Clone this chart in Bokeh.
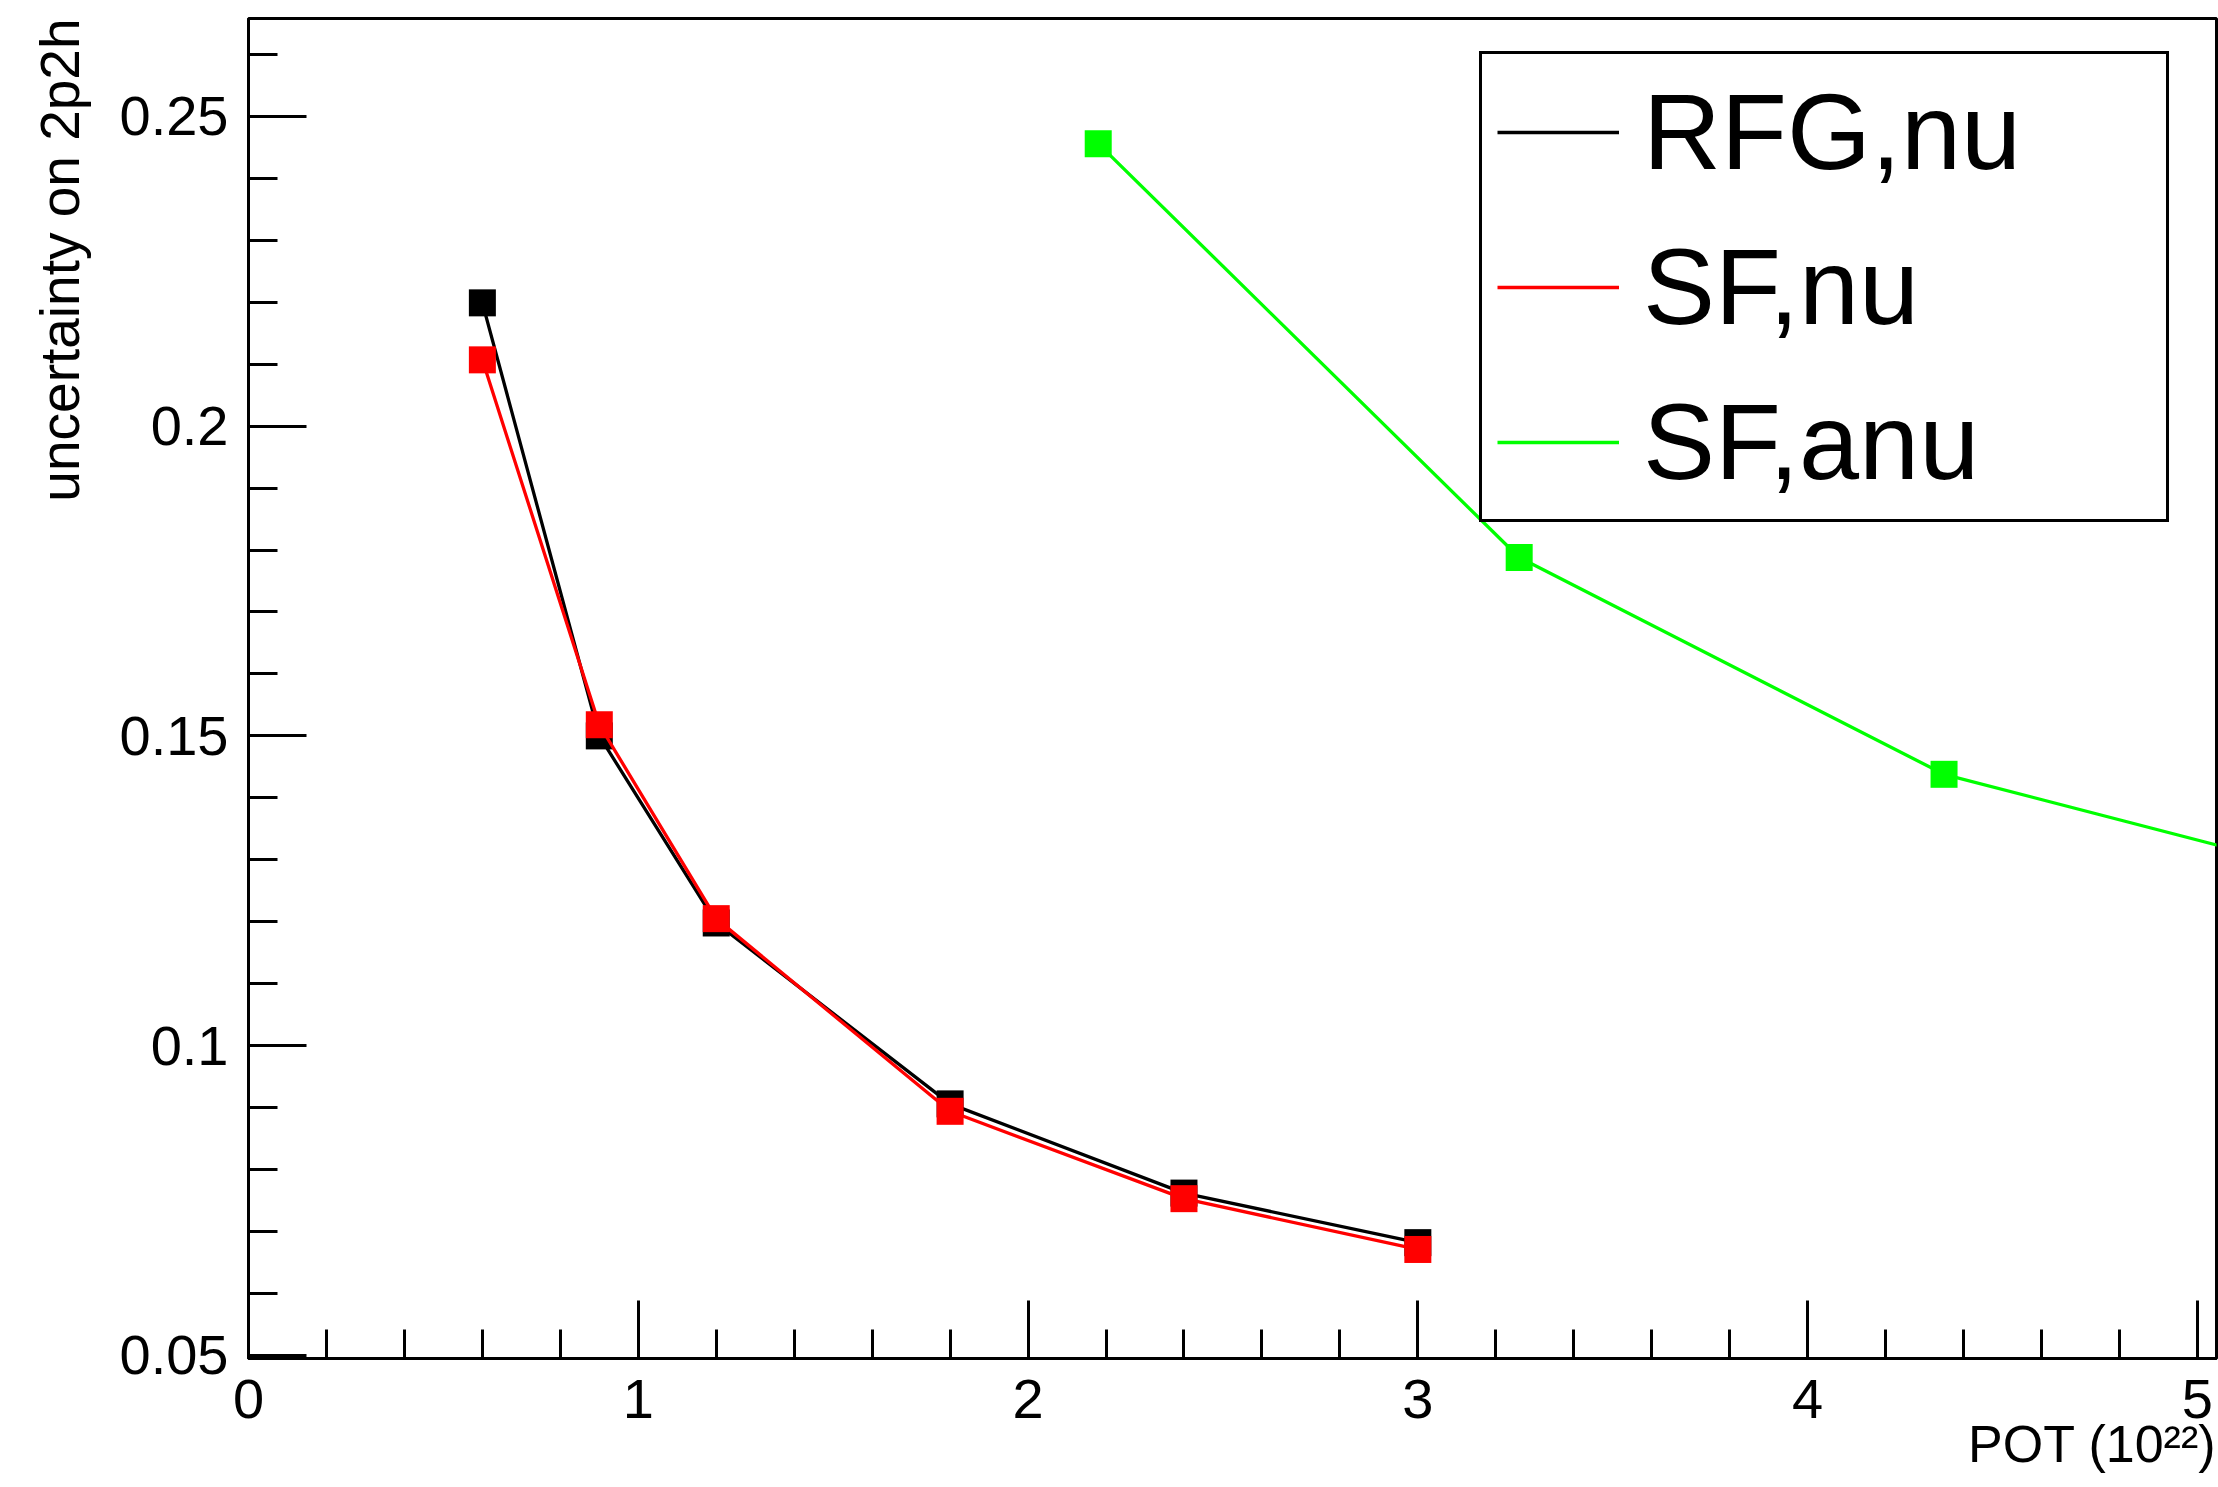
import numpy as np
from bokeh.plotting import figure
from bokeh.models import (Range1d, SingleIntervalTicker, CustomJSTickFormatter,
                          Legend, LegendItem, Title)
from bokeh.embed import file_html
from bokeh.resources import INLINE

# ---- data ----
pot_nu = [0.6, 0.9, 1.2, 1.8, 2.4, 3.0]
rfg_nu = [0.2199, 0.1500, 0.1198, 0.0906, 0.0762, 0.0682]
sf_nu = [0.2107, 0.1518, 0.1205, 0.0894, 0.0753, 0.0671]
pot_anu = [2.18, 3.26, 4.35, 5.44]
sf_anu = [0.2456, 0.1788, 0.1438, 0.1260]

series_names = ["RFG,nu", "SF,nu", "SF,anu"]
series_colors = ["#000000", "#ff0000", "#00ff00"]

x_title = "POT (10\u00b2\u00b2)"
y_title = "uncertainty on 2p2h"

FONT = "Liberation Sans"

p = figure(width=2218, height=1487,
           x_range=Range1d(0, 5.049), y_range=Range1d(0.0495, 0.2658),
           output_backend="svg", toolbar_location=None,
           min_border_left=247, min_border_right=2,
           min_border_top=18, min_border_bottom=129)

p.background_fill_color = "white"
p.border_fill_color = "white"
p.xgrid.visible = False
p.ygrid.visible = False
p.outline_line_color = "black"
p.outline_line_width = 3
p.outline_line_alpha = 1.0

p.xaxis.ticker = SingleIntervalTicker(interval=1, num_minor_ticks=5)
p.yaxis.ticker = SingleIntervalTicker(interval=0.05, num_minor_ticks=5)
p.xaxis.formatter = CustomJSTickFormatter(code="return Number(tick.toFixed(4)).toString();")
p.yaxis.formatter = CustomJSTickFormatter(code="return Number(tick.toFixed(4)).toString();")

for ax in (p.xaxis[0], p.yaxis[0]):
    ax.axis_line_width = 3
    ax.axis_line_color = "black"
    ax.major_tick_line_width = 3
    ax.minor_tick_line_width = 3
    ax.major_tick_line_color = "black"
    ax.minor_tick_line_color = "black"
    ax.major_tick_in = 58
    ax.major_tick_out = 0
    ax.minor_tick_in = 29
    ax.minor_tick_out = 0
    ax.major_label_text_font = FONT
    ax.major_label_text_font_size = "56px"
    ax.major_label_text_color = "black"

p.xaxis.major_label_standoff = 21
p.yaxis.major_label_standoff = 20

# axis titles, aligned to the end of each axis as in the reference
xt = Title(text=x_title, align="right", text_font=FONT, text_font_size="52px",
           text_font_style="normal", text_color="black", standoff=-15)
p.add_layout(xt, "below")
yt = Title(text=y_title, align="right", text_font=FONT, text_font_size="55px",
           text_font_style="normal", text_color="black", standoff=52)
p.add_layout(yt, "left")

renderers = []
for xs, ys, color in ((pot_nu, rfg_nu, series_colors[0]),
                      (pot_nu, sf_nu, series_colors[1]),
                      (pot_anu, sf_anu, series_colors[2])):
    lr = p.line(xs, ys, line_color=color, line_width=3.3)
    p.scatter(xs, ys, marker="square", size=27, fill_color=color, line_color=None)
    renderers.append(lr)

legend = Legend(items=[LegendItem(label=n, renderers=[r]) for n, r in zip(series_names, renderers)],
                location=(1231, 836))
legend.border_line_color = "black"
legend.border_line_width = 3
legend.border_line_alpha = 1.0
legend.background_fill_color = "white"
legend.background_fill_alpha = 1.0
legend.label_text_font = FONT
legend.label_text_font_size = "108px"
legend.label_text_color = "black"
legend.glyph_width = 122
legend.glyph_height = 102
legend.label_height = 102
legend.label_width = 508
legend.label_standoff = 24
legend.padding = 15
legend.spacing = 30
legend.margin = 0
p.add_layout(legend)

open("out.html", "w").write(file_html(p, INLINE))
